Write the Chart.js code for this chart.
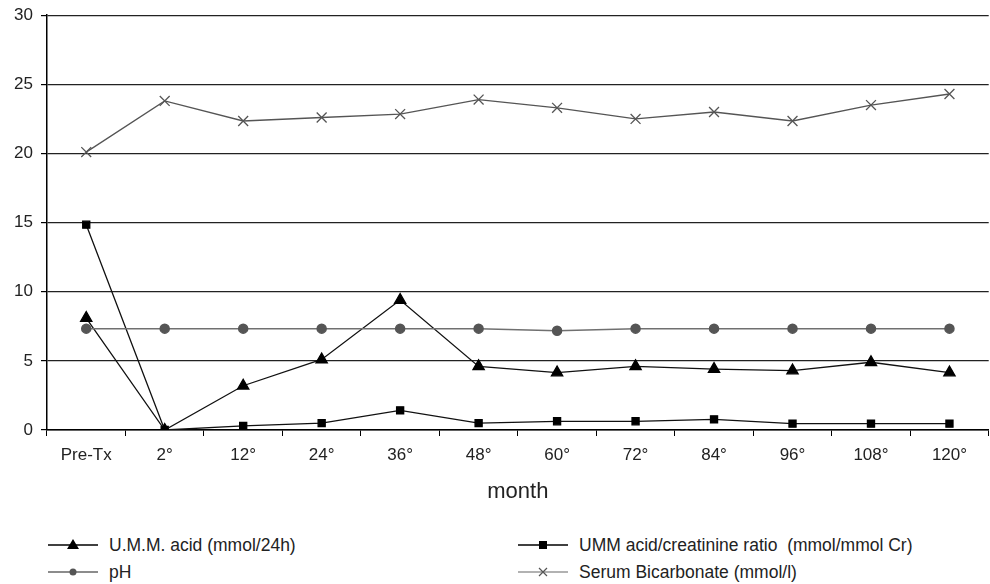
<!DOCTYPE html>
<html>
<head>
<meta charset="utf-8">
<script src="https://cdn.jsdelivr.net/npm/chart.js@4"></script>
<style>
  body { margin: 0; background: #fff; font-family: "Liberation Sans", Arial, sans-serif; overflow: hidden; }
  #wrap { position: relative; width: 990px; height: 584px; overflow: hidden; }
  #box { position: absolute; left: 0; top: -3px; width: 997px; height: 518px; }
  .leg { position: absolute; display: flex; align-items: center; font-size: 17.5px; color: #222; height: 24px; }
  .leg svg { margin-right: 11px; }
</style>
</head>
<body>
<div id="wrap">
  <div id="box"><canvas id="chart1"></canvas></div>
  <div class="leg" style="left:48px; top:533px;">
    <svg width="50" height="20"><line x1="0" y1="10" x2="50" y2="10" stroke="#000" stroke-width="1.5"/><polygon points="25,4 31,14 19,14" fill="#000"/></svg>U.M.M. acid (mmol/24h)
  </div>
  <div class="leg" style="left:518px; top:533px;">
    <svg width="50" height="20"><line x1="0" y1="10" x2="50" y2="10" stroke="#000" stroke-width="1.5"/><rect x="21" y="6" width="8" height="8" fill="#000"/></svg>UMM acid/creatinine ratio&nbsp; (mmol/mmol Cr)
  </div>
  <div class="leg" style="left:48px; top:560px;">
    <svg width="50" height="20"><line x1="0" y1="10" x2="50" y2="10" stroke="#666" stroke-width="1.5"/><circle cx="25" cy="10" r="3.5" fill="#555"/></svg>pH
  </div>
  <div class="leg" style="left:518px; top:560px;">
    <svg width="50" height="20"><line x1="0" y1="10" x2="50" y2="10" stroke="#666" stroke-width="1.2"/><path d="M21,6 L29,14 M29,6 L21,14" stroke="#555" stroke-width="1.2"/></svg>Serum Bicarbonate (mmol/l)
  </div>
</div>
<script>
// values
const months = ['Pre-Tx', '2°', '12°', '24°', '36°', '48°', '60°', '72°', '84°', '96°', '108°', '120°'];
const ummAcid = [8.1, 0, 3.2, 5.1, 9.4, 4.6, 4.15, 4.6, 4.4, 4.3, 4.9, 4.15];
const ummRatio = [14.85, 0, 0.3, 0.5, 1.42, 0.5, 0.63, 0.63, 0.77, 0.46, 0.46, 0.46];
const ph = [7.33, 7.33, 7.33, 7.33, 7.33, 7.33, 7.18, 7.33, 7.33, 7.33, 7.33, 7.33];
const bicarbonate = [20.1, 23.8, 22.35, 22.6, 22.85, 23.9, 23.3, 22.5, 23.0, 22.35, 23.5, 24.3];
const yTicks = [0, 5, 10, 15, 20, 25, 30];

const ctx = document.getElementById('chart1').getContext('2d');
new Chart(ctx, {
  type: 'line',
  data: {
    labels: months,
    datasets: [
      {
        label: 'Serum Bicarbonate (mmol/l)',
        data: bicarbonate,
        borderColor: '#555',
        borderWidth: 1.3,
        pointStyle: 'crossRot',
        pointRadius: 7,
        pointBorderColor: '#555',
        pointBorderWidth: 1.3,
        tension: 0,
      },
      {
        label: 'pH',
        data: ph,
        borderColor: '#707070',
        borderWidth: 1.5,
        pointStyle: 'circle',
        pointRadius: 4.5,
        pointBackgroundColor: '#555',
        pointBorderColor: '#555',
        tension: 0,
      },
      {
        label: 'U.M.M. acid (mmol/24h)',
        data: ummAcid,
        borderColor: '#111',
        borderWidth: 1.3,
        pointStyle: 'triangle',
        pointRadius: 6.5,
        pointBackgroundColor: '#000',
        pointBorderColor: '#000',
        tension: 0,
      },
      {
        label: 'UMM acid/creatinine ratio  (mmol/mmol Cr)',
        data: ummRatio,
        borderColor: '#111',
        borderWidth: 1.3,
        pointStyle: 'rect',
        pointRadius: 5,
        pointBackgroundColor: '#000',
        pointBorderColor: '#000',
        tension: 0,
      },
    ],
  },
  options: {
    responsive: true,
    maintainAspectRatio: false,
    animation: false,
    layout: { padding: { top: 12, right: 2, left: 0, bottom: 0 } },
    plugins: {
      legend: { display: false },
      tooltip: { enabled: false },
    },
    scales: {
      x: {
        offset: true,
        grid: { offset: true, drawOnChartArea: false, color: '#000', tickLength: 6, tickColor: '#000' },
        border: { color: '#000', width: 1.5 },
        ticks: { color: '#222', font: { family: 'Liberation Sans', size: 17 }, padding: 9, maxRotation: 0, autoSkip: false },
        title: { display: true, text: 'month', color: '#222', font: { family: 'Liberation Sans', size: 22 }, padding: { top: 10, bottom: 10 } },
        afterFit: (s) => { s.height = 85; },
      },
      y: {
        min: 0,
        max: 30,
        afterBuildTicks: (s) => { s.ticks = yTicks.map((v) => ({ value: v })); },
        grid: { color: '#222', lineWidth: 1.2, tickLength: 6, tickColor: '#000' },
        border: { color: '#000', width: 1.5 },
        ticks: { color: '#222', font: { family: 'Liberation Sans', size: 17 }, padding: 8 },
        afterFit: (s) => { s.width = 47; },
      },
    },
  },
});
</script>
</body>
</html>
